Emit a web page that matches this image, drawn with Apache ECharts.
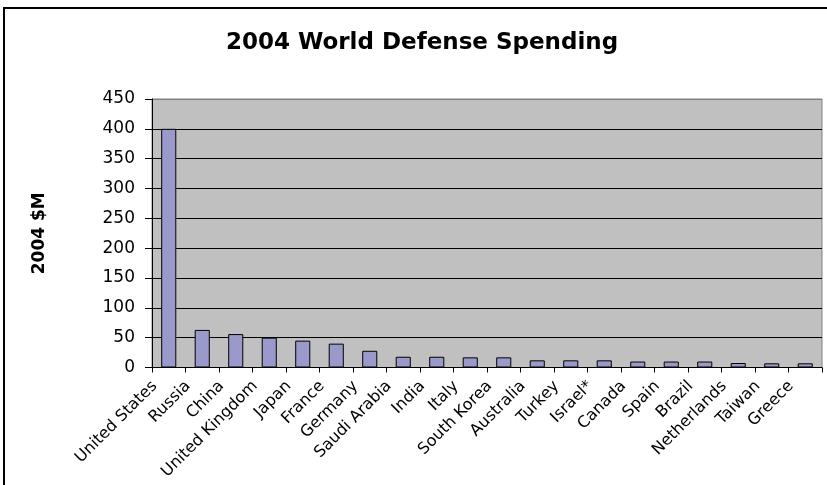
<!DOCTYPE html>
<html>
<head>
<meta charset="utf-8">
<script src="https://cdn.jsdelivr.net/npm/echarts@6/dist/echarts.min.js"></script>
<style>
  html, body { margin: 0; padding: 0; background: #fff; }
  #chart { width: 827px; height: 485px; }
</style>
</head>
<body>
<div id="chart"></div>
<script>
const countries = [
  "United States", "Russia", "China", "United Kingdom", "Japan", "France",
  "Germany", "Saudi Arabia", "India", "Italy", "South Korea", "Australia",
  "Turkey", "Israel*", "Canada", "Spain", "Brazil", "Netherlands", "Taiwan", "Greece",
];
const spending = [400, 63, 56, 50, 45, 40, 28, 18, 18, 17, 17, 12, 12, 12, 10, 10, 10, 7.5, 7, 7];

const chart = echarts.init(document.getElementById("chart"));
const font = "DejaVu Sans";

// gridlines black, the one at the top edge grey like the plot border
const gridColors = ["#000", "#000", "#000", "#000", "#000", "#000", "#000", "#000", "#000", "#808080"];

chart.setOption({
  animation: false,
  title: {
    text: "2004 World Defense Spending",
    left: 417,
    top: 27,
    textAlign: "center",
    textStyle: { fontFamily: font, fontSize: 23, fontWeight: "bold", color: "#000" },
  },
  grid: {
    left: 152,
    top: 99,
    width: 670,
    height: 268.5,
    show: true,
    backgroundColor: "#C0C0C0",
    borderColor: "#808080",
    borderWidth: 1,
  },
  xAxis: {
    type: "category",
    data: countries,
    axisLine: { lineStyle: { color: "#000", width: 1 } },
    axisTick: { show: true, length: 5, lineStyle: { color: "#000" } },
    axisLabel: {
      interval: 0,
      rotate: 45,
      margin: 2,
      padding: [0, 20, 14, 0],
      fontFamily: font,
      fontSize: 16,
      color: "#000",
    },
  },
  yAxis: {
    type: "value",
    min: 0,
    max: 450,
    interval: 50,
    name: "2004 $M",
    nameLocation: "middle",
    nameGap: 104,
    nameRotate: 90,
    nameTextStyle: { fontFamily: font, fontSize: 17, fontWeight: "bold", color: "#000" },
    axisLine: { show: true, lineStyle: { color: "#000", width: 1 } },
    axisTick: { show: true, length: 7, lineStyle: { color: "#000" } },
    axisLabel: { margin: 17, fontFamily: font, fontSize: 17, color: "#000" },
    splitLine: { show: true, lineStyle: { color: gridColors, width: 1 } },
  },
  series: [
    {
      type: "bar",
      data: spending,
      barCategoryGap: "55%",
      itemStyle: { color: "#9999CC", borderColor: "#000", borderWidth: 1 },
    },
  ],
  graphic: [
    {
      type: "rect",
      shape: { x: 4, y: 8, width: 840, height: 500 },
      style: { fill: "none", stroke: "#000", lineWidth: 2 },
      silent: true,
    },
  ],
});
</script>
</body>
</html>
